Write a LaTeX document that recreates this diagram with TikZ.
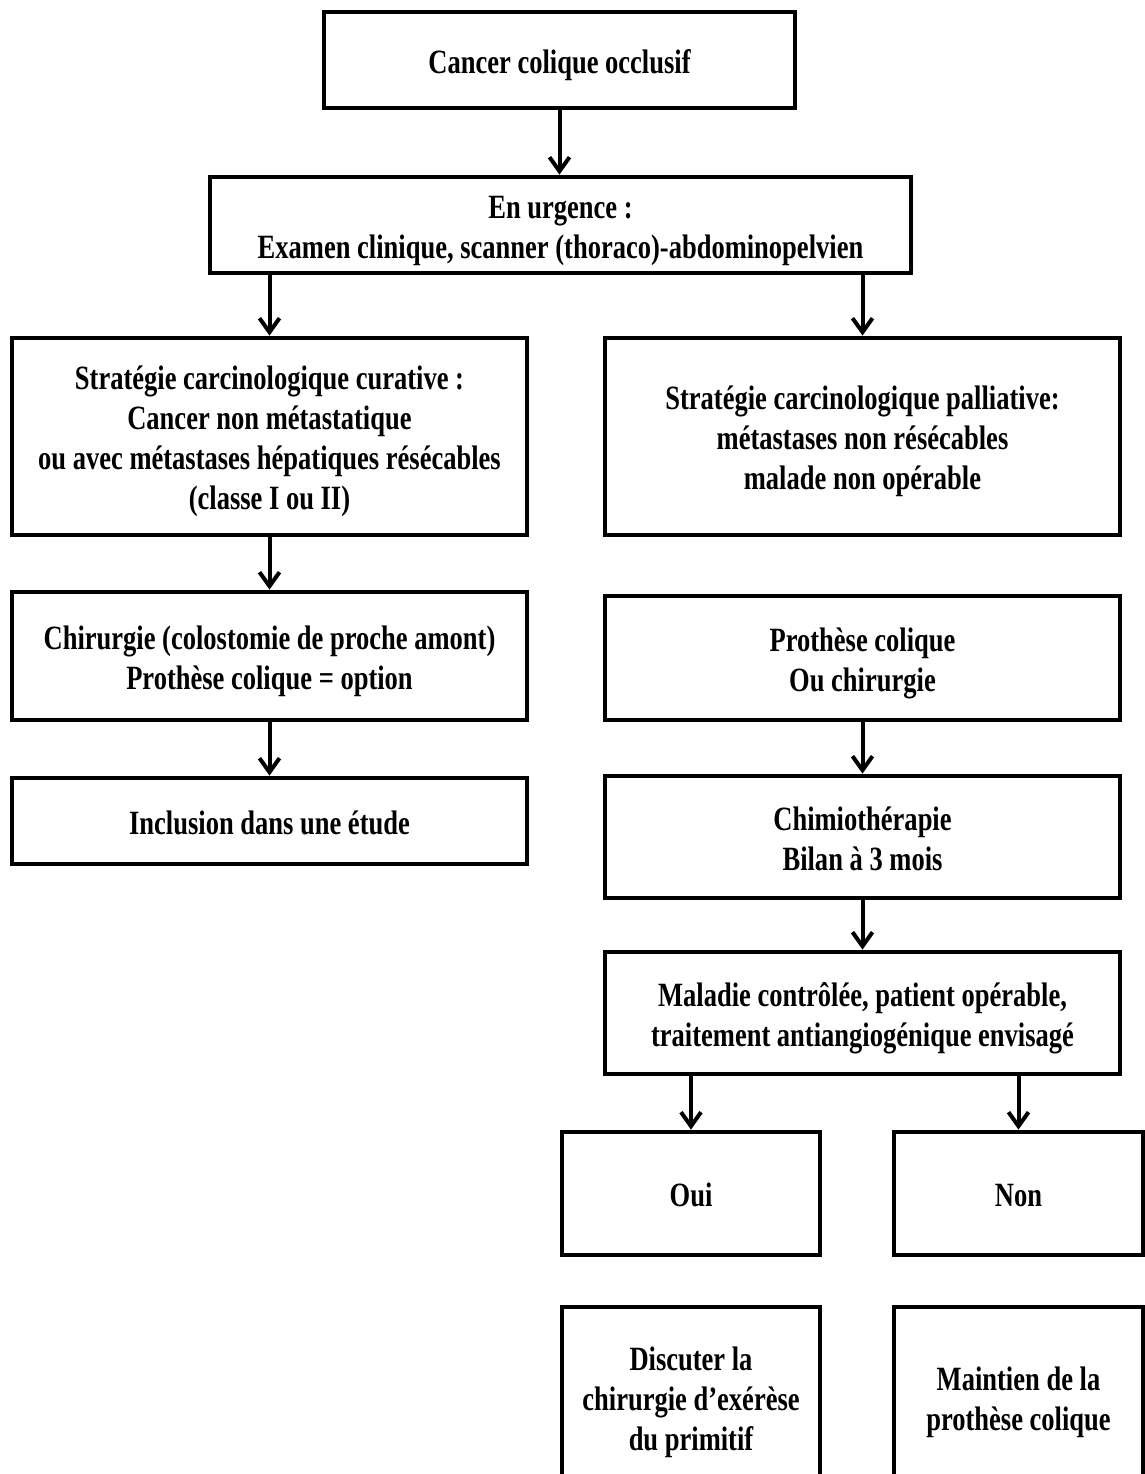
\documentclass[tikz,border=0pt]{standalone}
\usepackage{fontspec}
\setmainfont[FakeStretch=0.78]{Liberation Serif}
\usetikzlibrary{arrows.meta}
\newcommand\tl[1]{\raisebox{-2.6pt}[\height][\depth]{\begin{tabular}{@{}c@{}}#1\end{tabular}}}
\tikzset{
  box/.style={draw, line width=2.4pt, inner sep=0pt,
    font=\fontsize{17pt}{20pt}\selectfont\bfseries},
  arr/.style={line width=2pt, -{Straight Barb[length=7pt,width=10pt,line width=2pt]}}
}
\begin{document}
\begin{tikzpicture}[x=0.5pt,y=-0.5pt]
\useasboundingbox (0,0) rectangle (1145,1474);
\clip (0,0) rectangle (1145,1474);
\fill[white] (0,0) rectangle (1145,1474);
\node[box, minimum width=235.5pt, minimum height=48pt] (b1) at (559.5,60) {\tl{Cancer colique occlusif}};
\node[box, minimum width=350.5pt, minimum height=48pt] (b2) at (560.5,225) {\tl{En urgence :\\Examen clinique, scanner (thoraco)-abdominopelvien}};
\node[box, minimum width=257.5pt, minimum height=98.5pt] (A) at (269.5,436.5) {\tl{Stratégie carcinologique curative :\\Cancer non métastatique\\ou avec métastases hépatiques résécables\\(classe I ou II)}};
\node[box, minimum width=257.5pt, minimum height=98.5pt] (B) at (862.5,436.5) {\tl{Stratégie carcinologique palliative:\\métastases non résécables\\malade non opérable}};
\node[box, minimum width=257.5pt, minimum height=64pt] (C) at (269.5,656) {\tl{Chirurgie (colostomie de proche amont)\\Prothèse colique = option}};
\node[box, minimum width=257.5pt, minimum height=43pt] (D) at (269.5,821) {\tl{Inclusion dans une étude}};
\node[box, minimum width=257.5pt, minimum height=62pt] (E) at (862.5,658) {\tl{Prothèse colique\\Ou chirurgie}};
\node[box, minimum width=257.5pt, minimum height=61pt] (F) at (862.5,837) {\tl{Chimiothérapie\\Bilan à 3 mois}};
\node[box, minimum width=257.5pt, minimum height=61pt] (G) at (862.5,1013) {\tl{Maladie contrôlée, patient opérable,\\traitement antiangiogénique envisagé}};
\node[box, minimum width=129pt, minimum height=61.5pt] (oui) at (691,1193.5) {\tl{Oui}};
\node[box, minimum width=124.5pt, minimum height=61.5pt] (non) at (1018.5,1193.5) {\tl{Non}};
\node[box, minimum width=129pt, minimum height=90pt] (dis) at (691,1397) {\tl{Discuter la\\chirurgie d’exérèse\\du primitif}};
\node[box, minimum width=124.5pt, minimum height=90pt] (main) at (1018.5,1397) {\tl{Maintien de la\\prothèse colique}};
\draw[arr] (b1.south) -- (b1.south |- b2.north);
\draw[arr] (b2.south -| A.north) -- (A.north);
\draw[arr] (b2.south -| B.north) -- (B.north);
\draw[arr] (A.south) -- (C.north);
\draw[arr] (C.south) -- (D.north);
\draw[arr] (E.south) -- (F.north);
\draw[arr] (F.south) -- (G.north);
\draw[arr] (G.south -| oui.north) -- (oui.north);
\draw[arr] (G.south -| non.north) -- (non.north);
\end{tikzpicture}
\end{document}
